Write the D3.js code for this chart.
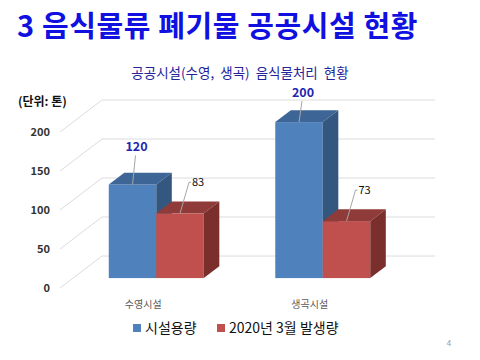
<!DOCTYPE html>
<html><head><meta charset="utf-8">
<script src="https://cdn.jsdelivr.net/npm/d3@7"></script>
<style>body{margin:0;background:#fff}svg{display:block}</style>
</head><body>
<script>
const categories = ["수영시설", "생곡시설"];
const seriesNames = ["시설용량", "2020년 3월 발생량"];
const capacity = [120, 200];
const generated = [83, 73];
const tickValues = [0, 50, 100, 150, 200];

const seriesValues = [capacity, generated];
const KR = "'Noto Sans CJK KR','Noto Sans',sans-serif";
const W = 480, H = 360;
const svg = d3.select("body").append("svg").attr("width", W).attr("height", H);

// main title
svg.append("text").attr("x", 17).attr("y", 37)
  .attr("font-family", KR).attr("font-weight", "bold").attr("font-size", 29)
  .attr("letter-spacing", 0.6)
  .attr("fill", "#1010E0").text("3 음식물류 폐기물 공공시설 현황");

const chartTitleBase = 78;
const chartTitleSize = 13.5;
svg.append("text").attr("x", 240).attr("y", chartTitleBase).attr("text-anchor", "middle")
  .attr("font-family", KR).attr("font-size", chartTitleSize).attr("fill", "#24249A")
  .attr("xml:space", "preserve")
  .text("공공시설(수영,  생곡)  음식물처리  현황");

svg.append("text").attr("x", 18).attr("y", 106)
  .attr("font-family", KR).attr("font-weight", "bold").attr("font-size", 12)
  .attr("fill", "#111").text("(단위: 톤)");

// 3D projection
const depth = {dx: 42, dy: -32};
const y = d3.scaleLinear().domain([0, 200]).range([288, 132]);
const xL = 60, xR = 393;
const proj = (x, v, z) => [x + depth.dx * z, y(v) + depth.dy * z];
const z0 = 0.31, z1 = 0.68;

const gx = d3.scalePoint().domain(categories).range([xL, xR]).padding(0.5);
const groupW = 95;
const inner = d3.scaleBand().domain(seriesNames).range([-groupW / 2, groupW / 2]).padding(0);

// gridlines
const grid = svg.append("g").attr("stroke", "#DCDCDC").attr("stroke-width", 1).attr("fill", "none");
tickValues.forEach(v => {
  const a = proj(xL, v, 0), b = proj(xL, v, 1), c = proj(xR, v, 1);
  grid.append("path").attr("d", `M${a[0]},${a[1]}L${b[0]},${b[1]}L${c[0]},${c[1]}`);
});

// tick labels
svg.append("g").selectAll("text").data(tickValues).join("text")
  .attr("x", 50).attr("y", d => y(d) + 4).attr("text-anchor", "end")
  .attr("font-family", KR).attr("font-weight", "bold").attr("font-size", 11)
  .attr("fill", "#333").text(d => d);

const colors = [
  {front: "#4F81BD", top: "#3D6696", side: "#34577F"},
  {front: "#C0504D", top: "#8F3B39", side: "#7A2F2D"}
];
const poly = pts => "M" + pts.map(p => p.join(",")).join("L") + "Z";

const bars = svg.append("g");
const labels = svg.append("g");
const labelSize = 12.5;
const minLabelBase = chartTitleBase + 0.29 * chartTitleSize + 1.16 * labelSize + 0.5;
categories.forEach((cat, ci) => {
  seriesNames.forEach((s, si) => {
    const v = seriesValues[si][ci];
    const x0 = gx(cat) + inner(s), x1 = x0 + inner.bandwidth();
    const col = colors[si];
    const f0 = proj(x0, 0, z0), f1 = proj(x1, v, z0);
    bars.append("rect").attr("x", f0[0]).attr("y", f1[1])
      .attr("width", f1[0] - f0[0]).attr("height", f0[1] - f1[1]).attr("fill", col.front);
    bars.append("path").attr("fill", col.top)
      .attr("d", poly([proj(x0, v, z0), proj(x1, v, z0), proj(x1, v, z1), proj(x0, v, z1)]));
    bars.append("path").attr("fill", col.side)
      .attr("d", poly([proj(x1, 0, z0), proj(x1, v, z0), proj(x1, v, z1), proj(x1, 0, z1)]));
    // data labels
    const cx = (f0[0] + f1[0]) / 2, top = f1[1];
    if (si === 0) {
      const base = Math.max(top - 33, minLabelBase);
      labels.append("path").attr("stroke", "#A6A6A6").attr("fill", "none")
        .attr("d", `M${cx},${top}L${cx + 3},${base + 4}`);
      labels.append("text").attr("x", cx + 4).attr("y", base).attr("text-anchor", "middle")
        .attr("font-family", KR).attr("font-weight", "bold").attr("font-size", labelSize)
        .attr("fill", "#2424B0").text(v);
    } else {
      const ly = top - 31;
      labels.append("path").attr("stroke", "#A6A6A6").attr("fill", "none")
        .attr("d", `M${cx},${top}L${cx + 9},${ly}L${cx + 11},${ly}`);
      labels.append("text").attr("x", cx + 12).attr("y", ly + 4)
        .attr("font-family", KR).attr("font-size", 11)
        .attr("fill", "#111").text(v);
    }
  });
});

// category labels
svg.append("g").selectAll("text").data(categories).join("text")
  .attr("x", d => gx(d)).attr("y", 308).attr("text-anchor", "middle")
  .attr("font-family", KR).attr("font-size", 10).attr("fill", "#595959").text(d => d);

// legend
const legendX = [133, 217];
const lg = svg.append("g");
seriesNames.forEach((s, i) => {
  lg.append("rect").attr("x", legendX[i]).attr("y", 324).attr("width", 8).attr("height", 8)
    .attr("fill", colors[i].front);
  lg.append("text").attr("x", legendX[i] + 12).attr("y", 333)
    .attr("font-family", KR).attr("font-size", 14)
    .attr("fill", "#111").text(s);
});

svg.append("text").attr("x", 449).attr("y", 346).attr("text-anchor", "middle")
  .attr("font-family", KR).attr("font-size", 8).attr("fill", "#999").text("4");
</script>
</body></html>
